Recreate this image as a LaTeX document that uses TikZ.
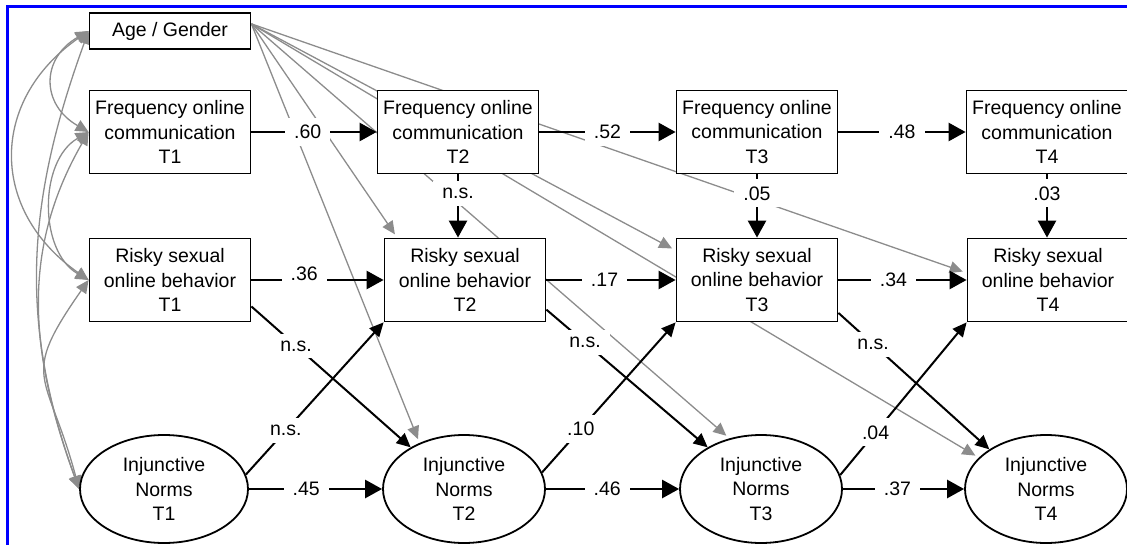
\documentclass[tikz,border=0pt]{standalone}
\usepackage{fontspec}
\setmainfont{Liberation Sans}
\usepackage{tikz}
\usetikzlibrary{positioning}
\usetikzlibrary{shapes.geometric}
\usetikzlibrary{arrows.meta}
\definecolor{pathgray}{RGB}{140,140,140}
\pgfdeclarelayer{background}
\pgfsetlayers{background,main}
\tikzset{
    path diagram/.style={
            node distance=2cm,
            font=\fontsize{19.5}{24.5}\selectfont,
            var/.style={draw, line width=1.8pt, fill=white, align=center,
                    minimum width=161pt, minimum height=83pt, inner sep=2pt},
            latent/.style={draw, ellipse, line width=1.8pt, fill=white, align=center,
                    minimum width=162pt, minimum height=108pt, inner sep=0pt},
            effect/.style={-{Triangle[length=17pt,width=18pt]}, line width=2.6pt},
            lagged/.style={-{Triangle[length=14pt,width=13pt]}, line width=2pt},
            control/.style={-{Triangle[length=13pt,width=12pt]}, draw=pathgray,
                    line width=1.3pt, shorten >=4pt},
            covar/.style={{Triangle[length=13pt,width=12pt]}-{Triangle[length=13pt,width=12pt]},
                    draw=pathgray, line width=1.3pt},
            coef/.style={fill=white, inner xsep=9pt, inner ysep=7pt}
        }
    }

\begin{document}
\begin{tikzpicture}[path diagram, x=1pt, y=-1pt]
                \useasboundingbox (0,0) rectangle (1127,545);
                \draw [blue, line width=3pt] (7,545) -- (7,7) -- (1127,7);
                % wave 1
                \node (ageG) [var, minimum height=36pt] at (170,31) {Age / Gender};
                \node (focA) [var, below of=ageG, node distance=101pt] {Frequency online\\communication\\T1};
                \node (riskA) [var, below of=focA, node distance=148pt] {Risky sexual\\online behavior\\T1};
                \node (injA) [latent, below of=riskA, node distance=209pt, xshift=-6pt, minimum width=168pt] {Injunctive\\Norms\\T1};
                % waves 2 to 4
                \node (focB) [var, right of=focA, node distance=288pt] {Frequency online\\communication\\T2};
                \node (focC) [var, right of=focB, node distance=299pt] {Frequency online\\communication\\T3};
                \node (focD) [var, right of=focC, node distance=290pt] {Frequency online\\communication\\T4};
                \node (riskB) [var, right of=riskA, node distance=295pt] {Risky sexual\\online behavior\\T2};
                \node (riskC) [var, right of=riskB, node distance=292pt] {Risky sexual\\online behavior\\T3};
                \node (riskD) [var, right of=riskC, node distance=291pt] {Risky sexual\\online behavior\\T4};
                \node (injB) [latent, right of=injA, node distance=300pt] {Injunctive\\Norms\\T2};
                \node (injC) [latent, right of=injB, node distance=297pt] {Injunctive\\Norms\\T3};
                \node (injD) [latent, right of=injC, node distance=285pt] {Injunctive\\Norms\\T4};
                \begin{pgfonlayer}{background}
                    % correlations at T1
                    \draw [covar] (ageG.west) to [out=210, in=150, looseness=1.4] (focA.west);
                    \draw [covar] (ageG.west) to [out=215, in=145, looseness=1.25] (riskA.west);
                    \draw [covar] (ageG.west) to [out=250, in=110] (injA.west);
                    \draw [covar] (focA.west) to [out=210, in=150] (riskA.west);
                    \draw [covar] (focA.west) to [out=240, in=110] (injA.west);
                    \draw [covar] (riskA.west) to [out=235, in=105, looseness=1.5] (injA.west);
                    % controls
                    \draw [control] (ageG.5) -- (riskB.148);
                    \draw [control] (ageG.5) -- (injB.134);
                    \draw [control] (ageG.5) -- (riskC.160);
                    \draw [control] (ageG.5) -- (injC.122);
                    \draw [control] (ageG.5) -- (riskD.175);
                    \draw [control] (ageG.5) -- (injD.155);
                \end{pgfonlayer}
                % stability paths
                \draw [effect] (focA) -- (focB) node [coef, pos=0.45] {.60};
                \draw [effect] (focB) -- (focC) node [coef, pos=0.5] {.52};
                \draw [effect] (focC) -- (focD) node [coef, pos=0.5] {.48};
                \draw [effect] (riskA) -- (riskB) node [coef, pos=0.4, yshift=6pt] {.36};
                \draw [effect] (riskB) -- (riskC) node [coef, pos=0.45] {.17};
                \draw [effect] (riskC) -- (riskD) node [coef, pos=0.43] {.34};
                \draw [effect] (injA) -- (injB) node [coef, pos=0.43] {.45};
                \draw [effect] (injB) -- (injC) node [coef, pos=0.46] {.46};
                \draw [effect] (injC) -- (injD) node [coef, pos=0.45] {.37};
                % frequency -> risky behavior
                \draw [effect] (focB) -- (focB |- riskB.north) node [coef, pos=0.3] {n.s.};
                \draw [effect] (focC) -- (riskC) node [coef, pos=0.3] {.05};
                \draw [effect] (focD) -- (focD |- riskD.north) node [coef, pos=0.3] {.03};
                % cross-lagged paths
                \draw [lagged] (riskA.-18) -- (injB.142) node [coef, pos=0.28] {n.s.};
                \draw [lagged] (injA.10) -- (riskB.south west) node [coef, pos=0.29] {n.s.};
                \draw [lagged] (riskB.-20) -- (injC.142) node [coef, pos=0.24] {n.s.};
                \draw [lagged] (injB.12) -- (riskC.south west) node [coef, pos=0.29] {.10};
                \draw [lagged] (riskC.-22) -- (injD.145) node [coef, pos=0.23] {n.s.};
                \draw [lagged] (injC.10) -- (riskD.south west) node [coef, pos=0.28] {.04};
            \end{tikzpicture}
\end{document}
